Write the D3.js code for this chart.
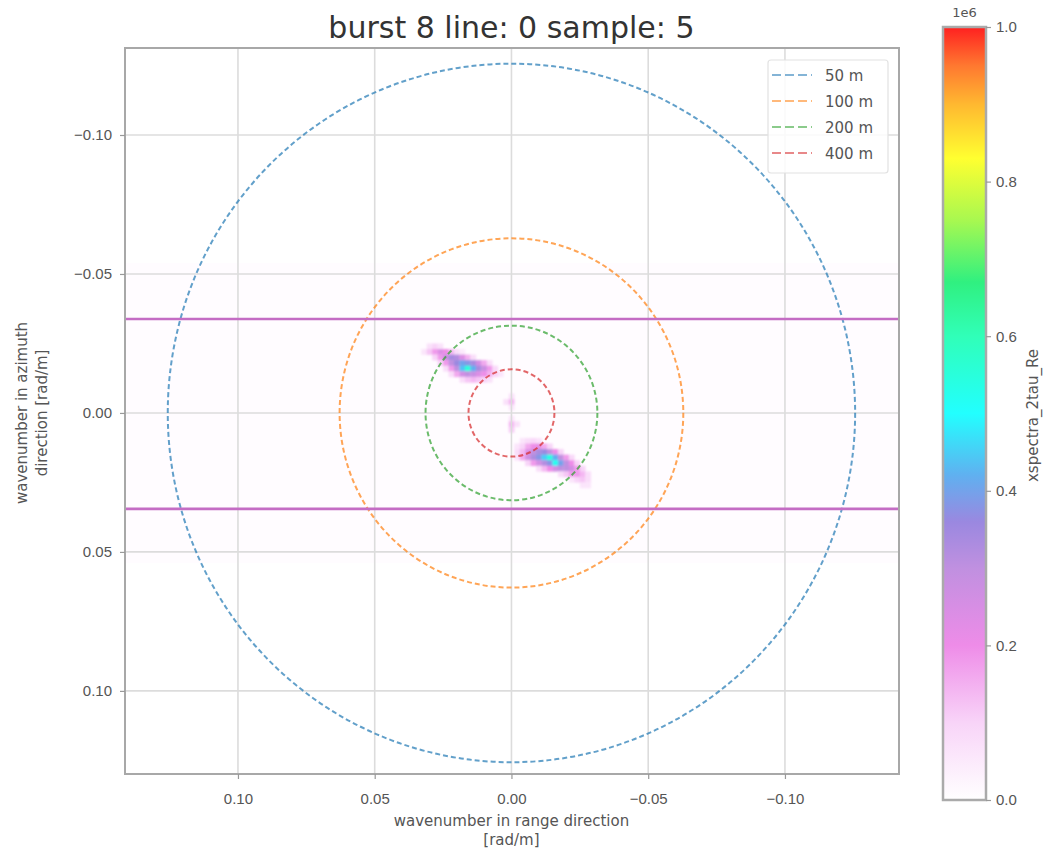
<!DOCTYPE html>
<html>
<head>
<meta charset="utf-8">
<script src="https://cdn.jsdelivr.net/npm/d3@7/dist/d3.min.js"></script>
<style>
  html, body { margin: 0; padding: 0; background: #fff; }
  svg { display: block; font-family: "DejaVu Sans", sans-serif; }
</style>
</head>
<body>
<svg id="chart" width="1046" height="848"></svg>
<script>
// ---------------- data ----------------
const titleText = "burst 8 line: 0 sample: 5";
const xTicks = [0.10, 0.05, 0.00, -0.05, -0.10];
const yTicks = [-0.10, -0.05, 0.00, 0.05, 0.10];
const cbTicks = [0.0, 0.2, 0.4, 0.6, 0.8, 1.0];
const wavelengths = [50, 100, 200, 400];            // m, circles k = 2*pi/L
const circleLabels = ["50 m", "100 m", "200 m", "400 m"];
const circleColors = ["#1f77b4", "#ff7f0e", "#2ca02c", "#d62728"];
const cutoffKy = [-0.0338, 0.0345];                 // horizontal magenta lines
const bandKy = [-0.054, 0.054];                     // faint noise band extent
const bandValue = 7000;
const cellSize = 0.002;                             // rad/m
// spectrum rows: ky index, first kx index (kx index decreases along the row), values (x1e6)
const rowJ  = [-12, -11, -10, -9, -8, -7, -6,
               5, 6, 7, 8, 9, 10, 11, 12, 13,
               -3, -2, -1, 1, 2, 3];
const rowI0 = [15, 16, 14, 13, 12, 11, 9,
               -2, -1, -1, -1, -3, -5, -9, -11, -13,
               0, 1, 0, 0, 0, 0];
const rowVals = [
  [0.07, 0.10, 0.07],
  [0.06, 0.12, 0.18, 0.24, 0.20, 0.14, 0.08, 0.05],
  [0.10, 0.18, 0.28, 0.34, 0.32, 0.24, 0.15, 0.08],
  [0.10, 0.18, 0.30, 0.36, 0.40, 0.38, 0.34, 0.26, 0.16, 0.08],
  [0.08, 0.18, 0.30, 0.44, 0.55, 0.42, 0.34, 0.28, 0.18, 0.09],
  [0.08, 0.16, 0.26, 0.30, 0.28, 0.24, 0.20, 0.15, 0.10, 0.06],
  [0.08, 0.12, 0.14, 0.12, 0.10, 0.07],
  [0.06, 0.08, 0.09, 0.07],
  [0.06, 0.10, 0.16, 0.20, 0.22, 0.16, 0.10],
  [0.08, 0.14, 0.24, 0.30, 0.34, 0.36, 0.30, 0.20, 0.10],
  [0.07, 0.16, 0.26, 0.33, 0.38, 0.45, 0.54, 0.42, 0.30, 0.18, 0.09],
  [0.10, 0.18, 0.26, 0.32, 0.38, 0.52, 0.40, 0.30, 0.20, 0.10],
  [0.08, 0.14, 0.20, 0.26, 0.30, 0.30, 0.26, 0.18, 0.10],
  [0.08, 0.12, 0.18, 0.18, 0.14, 0.08],
  [0.06, 0.10, 0.12, 0.08],
  [0.06, 0.06],
  [0.07],
  [0.07, 0.14],
  [0.06],
  [0.06],
  [0.14, 0.07],
  [0.11]
];
// colormap stops (value fraction, colour)
const cmapPos = [0.0, 0.1, 0.2, 0.3, 0.36, 0.42, 0.5, 0.6, 0.67, 0.75, 0.83, 0.9, 0.95, 1.0];
const cmapCol = ["#ffffff", "#f8d4f8", "#ee8ce8", "#c090e0", "#9a88e0", "#60b0f0", "#22ffff",
                 "#30ffb8", "#30f080", "#a8f850", "#ffff30", "#ffb830", "#ff7830", "#ff2020"];
const cbMax = 1e6;

// ---------------- layout ----------------
const svg = d3.select("#chart");
const plot = { left: 125, right: 899, top: 48, bottom: 774 };
const x = d3.scaleLinear().domain([0.1413, -0.1417]).range([plot.left, plot.right]);
const y = d3.scaleLinear().domain([-0.1313, 0.1299]).range([plot.top, plot.bottom]);
const color = d3.scaleLinear().domain(cmapPos.map(p => p * cbMax)).range(cmapCol)
  .interpolate(d3.interpolateRgb).clamp(true);

const defs = svg.append("defs");
defs.append("clipPath").attr("id", "clip").append("rect")
  .attr("x", plot.left).attr("y", plot.top)
  .attr("width", plot.right - plot.left).attr("height", plot.bottom - plot.top);
const blur = defs.append("filter").attr("id", "soft")
  .attr("x", "-20%").attr("y", "-20%").attr("width", "140%").attr("height", "140%");
blur.append("feGaussianBlur").attr("stdDeviation", 1.0);

const g = svg.append("g").attr("clip-path", "url(#clip)");

// faint band
g.append("rect")
  .attr("x", plot.left).attr("width", plot.right - plot.left)
  .attr("y", y(bandKy[0])).attr("height", y(bandKy[1]) - y(bandKy[0]))
  .attr("fill", color(bandValue));

// spectrum cells
const cells = [];
rowJ.forEach((j, r) => {
  rowVals[r].forEach((v, c) => {
    cells.push({ kx: (rowI0[r] - c) * cellSize, ky: j * cellSize, v: v * cbMax });
  });
});
g.append("g").attr("filter", "url(#soft)")
  .selectAll("rect.cell").data(cells).enter().append("rect")
  .attr("class", "cell")
  .attr("x", d => x(d.kx + cellSize / 2))
  .attr("y", d => y(d.ky - cellSize / 2))
  .attr("width", d => x(d.kx - cellSize / 2) - x(d.kx + cellSize / 2) + 0.3)
  .attr("height", d => y(d.ky + cellSize / 2) - y(d.ky - cellSize / 2) + 0.3)
  .attr("fill", d => color(d.v));

// grid
g.selectAll("line.gx").data(xTicks).enter().append("line")
  .attr("x1", d => x(d)).attr("x2", d => x(d))
  .attr("y1", plot.top).attr("y2", plot.bottom)
  .attr("stroke", "#dcdcdc").attr("stroke-width", 1.6);
g.selectAll("line.gy").data(yTicks).enter().append("line")
  .attr("y1", d => y(d)).attr("y2", d => y(d))
  .attr("x1", plot.left).attr("x2", plot.right)
  .attr("stroke", "#dcdcdc").attr("stroke-width", 1.6);

// circles
wavelengths.forEach((L, i) => {
  const k = 2 * Math.PI / L;
  g.append("ellipse")
    .attr("cx", x(0)).attr("cy", y(0))
    .attr("rx", Math.abs(x(k) - x(0))).attr("ry", Math.abs(y(k) - y(0)))
    .attr("fill", "none").attr("stroke", circleColors[i])
    .attr("stroke-opacity", 0.7)
    .attr("stroke-width", 2).attr("stroke-dasharray", "5,3");
});

// cutoff lines
g.selectAll("line.cut").data(cutoffKy).enter().append("line")
  .attr("x1", plot.left).attr("x2", plot.right)
  .attr("y1", d => y(d)).attr("y2", d => y(d))
  .attr("stroke", "#c46cc4").attr("stroke-width", 2.6);

// frame
svg.append("rect")
  .attr("x", plot.left).attr("y", plot.top)
  .attr("width", plot.right - plot.left).attr("height", plot.bottom - plot.top)
  .attr("fill", "none").attr("stroke", "#a8a8a8").attr("stroke-width", 2);

// axes
const fmt = d3.format(".2f");
const minus = s => s.replace("-", "\u2212");
const xAxis = svg.append("g").attr("transform", `translate(0,${plot.bottom})`)
  .call(d3.axisBottom(x).tickValues(xTicks).tickFormat(d => minus(fmt(d))).tickSize(5).tickPadding(14));
const yAxis = svg.append("g").attr("transform", `translate(${plot.left},0)`)
  .call(d3.axisLeft(y).tickValues(yTicks).tickFormat(d => minus(fmt(d))).tickSize(5).tickPadding(8));
[xAxis, yAxis].forEach(a => {
  a.select(".domain").remove();
  a.selectAll(".tick line").attr("stroke", "#999").attr("stroke-width", 1.2);
  a.selectAll(".tick text").attr("fill", "#555").style("font-size", "15px");
});

// axis labels
svg.append("text").attr("x", x(0)).attr("y", 826).attr("text-anchor", "middle")
  .attr("fill", "#555").style("font-size", "15px").text("wavenumber in range direction");
svg.append("text").attr("x", x(0)).attr("y", 845).attr("text-anchor", "middle")
  .attr("fill", "#555").style("font-size", "15px").text("[rad/m]");
const yl = svg.append("text").attr("transform", `translate(27,${y(0)}) rotate(-90)`)
  .attr("text-anchor", "middle").attr("fill", "#555").style("font-size", "15px");
yl.append("tspan").attr("x", 0).attr("dy", 0).text("wavenumber in azimuth");
yl.append("tspan").attr("x", 0).attr("dy", 20).text("direction [rad/m]");

// title
svg.append("text").attr("x", x(0)).attr("y", 38).attr("text-anchor", "middle")
  .attr("fill", "#333").style("font-size", "30px").text(titleText);

// legend
const lg = svg.append("g");
lg.append("rect").attr("x", 768).attr("y", 60).attr("width", 120).attr("height", 113)
  .attr("rx", 3).attr("fill", "#fff").attr("fill-opacity", 0.85)
  .attr("stroke", "#e2e2e2").attr("stroke-width", 1.2);
circleLabels.forEach((lab, i) => {
  const yy = 75 + i * 26;
  lg.append("line").attr("x1", 772).attr("x2", 812).attr("y1", yy).attr("y2", yy)
    .attr("stroke", circleColors[i]).attr("stroke-opacity", 0.55)
    .attr("stroke-width", 2.2).attr("stroke-dasharray", "9,4");
  lg.append("text").attr("x", 825).attr("y", yy + 5.5).attr("fill", "#555")
    .style("font-size", "15px").text(lab);
});

// colorbar
const cb = { x: 943, w: 43, top: 27, bottom: 800 };
const cy = d3.scaleLinear().domain([0, cbMax]).range([cb.bottom, cb.top]);
const grad = defs.append("linearGradient").attr("id", "cbgrad")
  .attr("x1", 0).attr("y1", 1).attr("x2", 0).attr("y2", 0);
cmapPos.forEach((p, i) => grad.append("stop").attr("offset", p).attr("stop-color", cmapCol[i]));
svg.append("rect").attr("x", cb.x).attr("y", cb.top).attr("width", cb.w)
  .attr("height", cb.bottom - cb.top).attr("fill", "url(#cbgrad)")
  .attr("stroke", "#aaa").attr("stroke-width", 2.5);
const cbAxis = svg.append("g").attr("transform", `translate(${cb.x + cb.w},0)`)
  .call(d3.axisRight(cy).tickValues(cbTicks.map(t => t * cbMax)).tickFormat(d => (d / cbMax).toFixed(1)).tickSize(5).tickPadding(5));
cbAxis.select(".domain").remove();
cbAxis.selectAll(".tick line").attr("stroke", "#999").attr("stroke-width", 1.2);
cbAxis.selectAll(".tick text").attr("fill", "#555").style("font-size", "15px");
svg.append("text").attr("x", cb.x + cb.w / 2).attr("y", 17).attr("text-anchor", "middle")
  .attr("fill", "#555").style("font-size", "13px").text("1e6");
svg.append("text").attr("transform", `translate(1038,${(cb.top + cb.bottom) / 2 + 2}) rotate(-90)`)
  .attr("text-anchor", "middle").attr("fill", "#555").style("font-size", "15px").text("xspectra_2tau_Re");
</script>
</body>
</html>
